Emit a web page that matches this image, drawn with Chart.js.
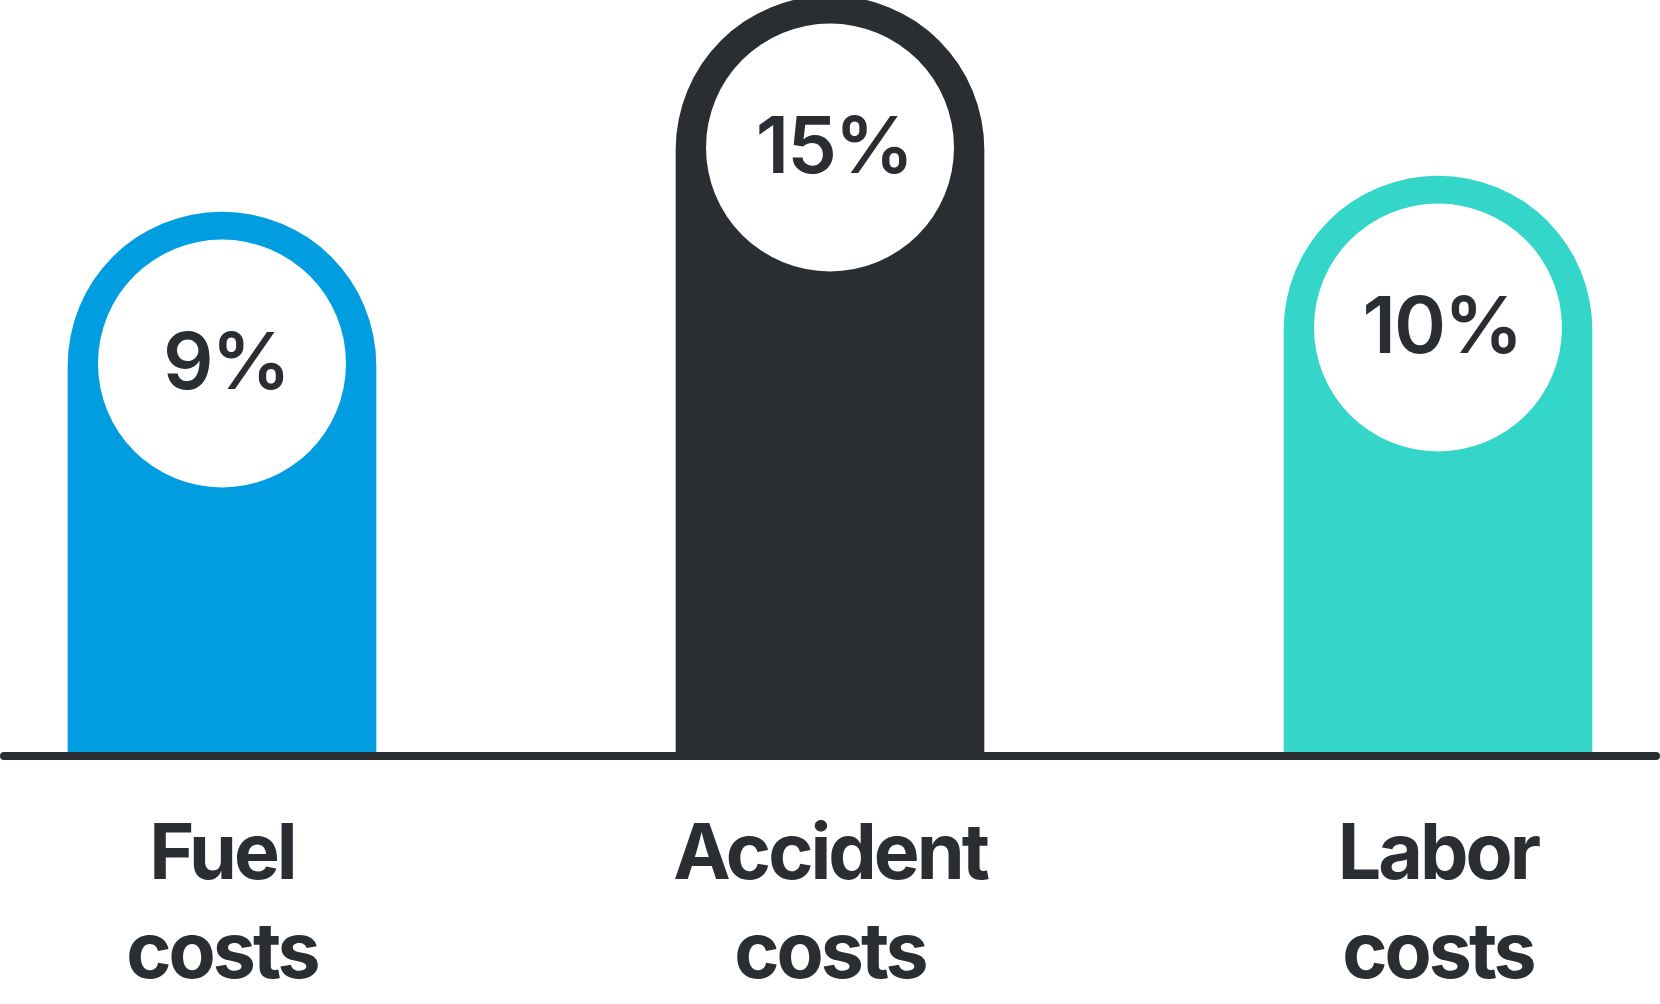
<!DOCTYPE html>
<html><head><meta charset="utf-8">
<script src="https://cdn.jsdelivr.net/npm/chart.js@4/dist/chart.umd.min.js"></script>
<style>html,body{margin:0;padding:0;background:#fff;}#wrap{width:1660px;height:1004px;position:relative;}</style>
</head><body><div id="wrap"><canvas id="c"></canvas></div>
<script>
const categories = [['Fuel', 'costs'], ['Accident', 'costs'], ['Labor', 'costs']];
const values = [9, 15, 10];
const valueLabels = ['9%', '15%', '10%'];
const barColors = ['#009ee0', '#2a2d32', '#33d6c8'];
const Y_MIN = -6;
const Y_MAX = 14;
const INK = '#2a2d32';

const decor = {
  id: 'decor',
  beforeDraw(chart) {
    chart.ctx.letterSpacing = '-3px';
  },
  afterDatasetsDraw(chart) {
    const ctx = chart.ctx;
    const meta = chart.getDatasetMeta(0);
    ctx.save();
    meta.data.forEach((bar, i) => {
      const r = bar.width / 2;
      const cx = bar.x, cy = bar.y + r - 2.5;
      ctx.beginPath();
      ctx.arc(cx, cy, r - 30, 0, Math.PI * 2);
      ctx.fillStyle = '#fff';
      ctx.fill();
      ctx.fillStyle = INK;
      ctx.font = '600 79px Inter';
      ctx.letterSpacing = '-2px';
      ctx.textAlign = 'center';
      ctx.textBaseline = 'alphabetic';
      ctx.fillText(valueLabels[i], cx + 4, cy + 25);
    });
    const y = chart.chartArea.bottom + 4;
    ctx.beginPath();
    ctx.lineCap = 'round';
    ctx.lineWidth = 8;
    ctx.strokeStyle = INK;
    ctx.moveTo(4, y);
    ctx.lineTo(chart.width - 4, y);
    ctx.stroke();
    ctx.restore();
  }
};

new Chart(document.getElementById('c'), {
  type: 'bar',
  data: {
    labels: categories,
    datasets: [{
      data: values,
      base: Y_MIN,
      backgroundColor: barColors,
      borderWidth: 0,
      barThickness: 308,
      borderRadius: {topLeft: 154, topRight: 154, bottomLeft: 0, bottomRight: 0},
      borderSkipped: 'bottom',
      clip: false
    }]
  },
  options: {
    responsive: true,
    maintainAspectRatio: false,
    animation: false,
    layout: {padding: {left: 222, right: 222, top: 32, bottom: 0}},
    plugins: {legend: {display: false}, tooltip: {enabled: false}},
    scales: {
      x: {
        offset: false,
        grid: {display: false, drawTicks: false},
        border: {display: false},
        afterFit(scale) { scale.height = 252; },
        ticks: {
          color: INK,
          font: {family: 'Inter', size: 77, weight: '700', lineHeight: 1.286},
          padding: 54,
          maxRotation: 0,
          autoSkip: false
        }
      },
      y: {display: false, min: Y_MIN, max: Y_MAX}
    }
  },
  plugins: [decor]
});
</script></body></html>
